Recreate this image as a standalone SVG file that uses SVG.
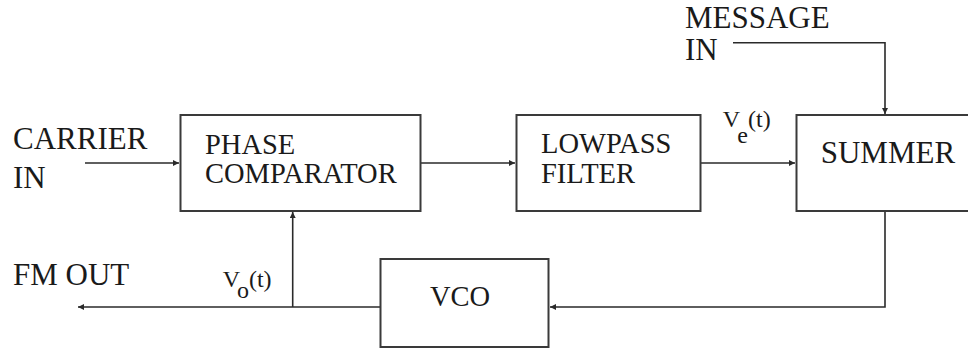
<svg xmlns="http://www.w3.org/2000/svg" width="968" height="349" viewBox="0 0 968 349">
<style>
.box{fill:#fff;stroke:#3a3a3a;stroke-width:2}
.ln{fill:none;stroke:#2a2a2a;stroke-width:1.6}
.t{font-family:'Liberation Serif','Times New Roman',Times,'DejaVu Serif',serif;fill:#1a1a1a}
.big{font-size:31px}
.mid{font-size:28.5px}
.sig{font-size:24px}
</style>
<defs>
<marker id="ah" viewBox="0 0 10 10" refX="10" refY="5" markerWidth="8" markerHeight="6" markerUnits="userSpaceOnUse" orient="auto">
<path d="M0,0 L10,5 L0,10 Z" fill="#2a2a2a"/>
</marker>
</defs>
<g id="connectors">
<path class="ln" d="M85,163 H179" marker-end="url(#ah)"/>
<path class="ln" d="M421,163 H515" marker-end="url(#ah)"/>
<path class="ln" d="M701,163 H795" marker-end="url(#ah)"/>
<path class="ln" d="M733,42.7 H885 V114" marker-end="url(#ah)"/>
<path class="ln" d="M885,211 V307 H550" marker-end="url(#ah)"/>
<path class="ln" d="M380,307 H78" marker-end="url(#ah)"/>
<path class="ln" d="M292.7,307 V212" marker-end="url(#ah)"/>
</g>
<g id="phase-comparator">
<rect class="box" x="180.5" y="115" width="240" height="96"/>
<text class="t mid" font-family="Liberation Serif, serif" x="205" y="154.3">PHASE</text>
<text class="t mid" font-family="Liberation Serif, serif" x="205" y="183.3">COMPARATOR</text>
</g>
<g id="lowpass-filter">
<rect class="box" x="516.5" y="115" width="184" height="96"/>
<text class="t mid" font-family="Liberation Serif, serif" x="541" y="153.3">LOWPASS</text>
<text class="t mid" font-family="Liberation Serif, serif" x="541" y="183.3">FILTER</text>
</g>
<g id="summer">
<rect class="box" x="796.5" y="115" width="180" height="96"/>
<text class="t big" font-family="Liberation Serif, serif" x="820.7" y="162.7">SUMMER</text>
</g>
<g id="vco">
<rect class="box" x="380.5" y="259" width="168" height="88"/>
<text class="t mid" font-family="Liberation Serif, serif" x="430" y="305.7">VCO</text>
</g>
<g id="labels">
<text class="t big" font-family="Liberation Serif, serif" x="13" y="149">CARRIER</text>
<text class="t big" font-family="Liberation Serif, serif" x="13" y="188.3">IN</text>
<text class="t big" font-family="Liberation Serif, serif" x="13" y="285">FM OUT</text>
<text class="t big" font-family="Liberation Serif, serif" x="685" y="28.3">MESSAGE</text>
<text class="t big" font-family="Liberation Serif, serif" x="685" y="60">IN</text>
<text class="t sig" font-family="Liberation Serif, serif" x="722.7" y="126.7">V<tspan dy="16.3">e</tspan><tspan dy="-16.3">(t)</tspan></text>
<text class="t sig" font-family="Liberation Serif, serif" x="222.7" y="286.7">V<tspan dy="11.3">o</tspan><tspan dy="-11.3">(t)</tspan></text>
</g>
</svg>
